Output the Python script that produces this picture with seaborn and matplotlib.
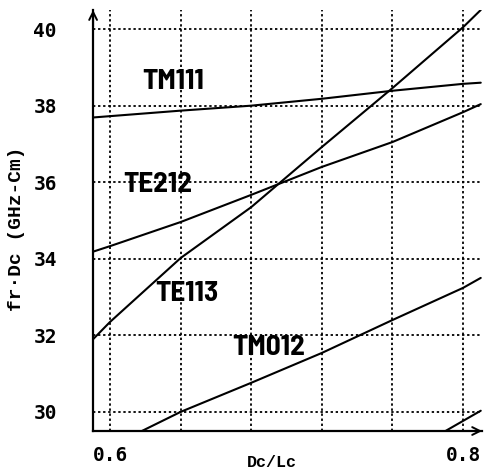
import matplotlib
matplotlib.use("Agg")
import matplotlib.pyplot as plt
import seaborn as sns

# values (x = Dc/Lc, y = fr*Dc)
tm111_x = [0.590, 0.640, 0.680, 0.720, 0.760, 0.800, 0.810]
tm111_y = [37.69, 37.87, 38.00, 38.18, 38.39, 38.57, 38.60]

te212_x = [0.590, 0.600, 0.640, 0.680, 0.720, 0.760, 0.800, 0.810]
te212_y = [34.18, 34.33, 34.96, 35.67, 36.40, 37.05, 37.83, 38.04]

te113_x = [0.590, 0.600, 0.640, 0.680, 0.720, 0.760, 0.800, 0.810]
te113_y = [31.88, 32.35, 34.02, 35.35, 36.92, 38.46, 40.05, 40.50]

tm012_x = [0.618, 0.640, 0.680, 0.720, 0.760, 0.800, 0.810]
tm012_y = [29.50, 30.00, 30.76, 31.54, 32.40, 33.24, 33.50]

other_x = [0.790, 0.810]
other_y = [29.50, 30.03]

x_ticks = [0.6, 0.8]
x_ticklabels = ["0.6", "0.8"]
x_grid = [0.60, 0.64, 0.68, 0.72, 0.76, 0.80]
y_ticks = [30, 32, 34, 36, 38, 40]

mode_names = ["TM111", "TE212", "TE113", "TM012"]
name_pos = [(0.6357, 38.62), (0.627, 35.95), (0.6436, 33.10), (0.690, 31.67)]

sns.set_style("white")
plt.rcParams["text.color"] = "black"
plt.rcParams["xtick.color"] = "black"
plt.rcParams["ytick.color"] = "black"
plt.rcParams["axes.labelcolor"] = "black"

fig = plt.figure(figsize=(4.9, 4.75), dpi=100)
ax = fig.add_axes([0.190, 0.0926, 0.794, 0.8864])

for xs, ys in [(tm111_x, tm111_y), (te212_x, te212_y), (te113_x, te113_y),
               (tm012_x, tm012_y), (other_x, other_y)]:
    sns.lineplot(x=xs, y=ys, color="black", linewidth=1.5, ax=ax)

ax.set_xlim(0.5904, 0.8108)
ax.set_ylim(29.5, 40.5)

# dotted grid
for gx in x_grid:
    ax.axvline(gx, color="black", linestyle=(0, (1.3, 1.5)), linewidth=1.3, zorder=0)
for gy in y_ticks:
    ax.axhline(gy, color="black", linestyle=(0, (1.3, 1.5)), linewidth=1.3, zorder=0)

ax.set_xticks(x_ticks)
ax.set_xticklabels(x_ticklabels)
ax.set_yticks(y_ticks)
ax.tick_params(axis="x", length=0, pad=11)
ax.tick_params(axis="y", length=6, width=1.2, pad=20)
for lab in ax.get_xticklabels() + ax.get_yticklabels():
    lab.set_family(["DejaVu Sans Mono"])
    lab.set_fontweight("bold")
    lab.set_fontsize(14)
    lab.set_color("black")

for side in ["top", "right"]:
    ax.spines[side].set_visible(False)
for side in ["left", "bottom"]:
    ax.spines[side].set_color("black")
    ax.spines[side].set_linewidth(1.6)

# arrow heads at the axis ends
ax.annotate("", xy=(1.0, 0), xytext=(0.96, 0), xycoords="axes fraction",
            arrowprops=dict(arrowstyle="->", color="black", lw=1.4,
                            mutation_scale=14, shrinkA=0, shrinkB=0))
ax.annotate("", xy=(0, 1.0), xytext=(0, 0.96), xycoords="axes fraction",
            arrowprops=dict(arrowstyle="->", color="black", lw=1.4,
                            mutation_scale=14, shrinkA=0, shrinkB=0))

for name, (tx, ty) in zip(mode_names, name_pos):
    ax.text(tx, ty, name, ha="center", va="center", fontsize=21, fontweight="bold",
            family=["Barlow Semi Condensed", "DejaVu Sans"], color="black")

ax.set_xlabel("Dc/Lc", family=["Liberation Mono", "DejaVu Sans Mono"],
              fontweight="bold", fontsize=12, color="black")
ax.set_ylabel("fr\u00b7Dc (GHz-Cm)", family=["Liberation Mono", "DejaVu Sans Mono"],
              fontweight="bold", fontsize=14, color="black")
ax.xaxis.set_label_coords(0.46, -0.058)
ax.yaxis.set_label_coords(-0.175, 0.48)

fig.savefig("out.png", dpi=100)
